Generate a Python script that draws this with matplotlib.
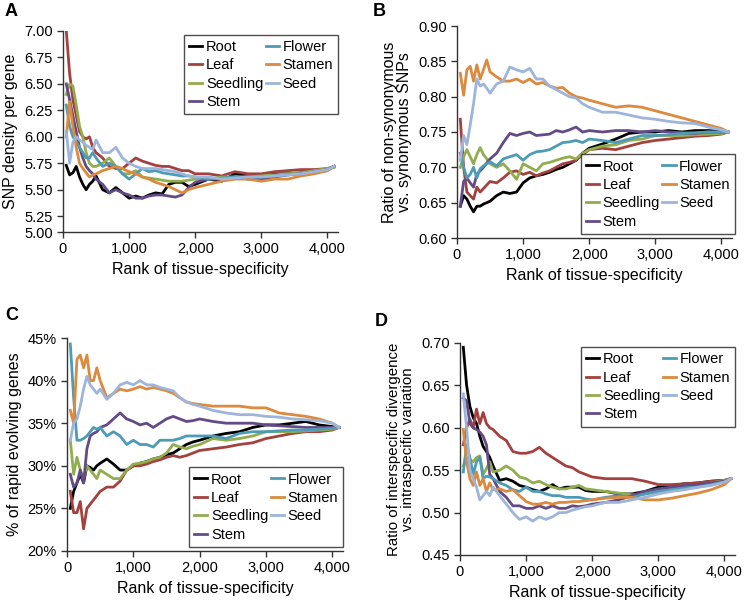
import matplotlib
matplotlib.use('Agg')
import matplotlib.pyplot as plt
from matplotlib.ticker import FuncFormatter

plt.rcParams['font.family'] = ['Liberation Sans', 'DejaVu Sans']
plt.rcParams['font.size'] = 10

tissues = ['Root', 'Leaf', 'Seedling', 'Stem', 'Flower', 'Stamen', 'Seed']
colors = ['#000000', '#a3413f', '#92ad4e', '#634b86', '#4e9bb5', '#db8a3e', '#9db5db']

rank = [50, 100, 150, 200, 250, 300, 350, 400, 450, 500, 600, 700, 800, 900, 1000,
        1100, 1200, 1300, 1400, 1500, 1600, 1700, 1800, 1900, 2000, 2200, 2400, 2600,
        2800, 3000, 3200, 3400, 3600, 3800, 4000, 4100]

# A: SNP density per gene
a_root = [5.73, 5.64, 5.66, 5.72, 5.62, 5.55, 5.50, 5.55, 5.58, 5.63, 5.50, 5.47, 5.52, 5.47, 5.42, 5.44, 5.42, 5.45, 5.47, 5.46, 5.55, 5.57, 5.57, 5.53, 5.55, 5.60, 5.58, 5.65, 5.63, 5.62, 5.65, 5.65, 5.66, 5.67, 5.69, 5.72]
a_leaf = [7.00, 6.60, 6.35, 6.20, 6.05, 6.00, 5.98, 6.00, 5.90, 5.85, 5.80, 5.72, 5.70, 5.70, 5.75, 5.80, 5.77, 5.75, 5.73, 5.72, 5.72, 5.70, 5.68, 5.68, 5.65, 5.65, 5.63, 5.67, 5.65, 5.65, 5.67, 5.68, 5.69, 5.69, 5.70, 5.72]
a_seedling = [6.40, 6.50, 6.48, 6.30, 6.10, 6.00, 5.85, 5.75, 5.72, 5.72, 5.75, 5.80, 5.72, 5.65, 5.65, 5.68, 5.62, 5.61, 5.60, 5.59, 5.58, 5.58, 5.58, 5.59, 5.60, 5.60, 5.62, 5.62, 5.62, 5.63, 5.64, 5.65, 5.66, 5.68, 5.70, 5.71]
a_stem = [6.50, 6.35, 6.20, 6.05, 5.90, 5.80, 5.72, 5.68, 5.65, 5.60, 5.55, 5.47, 5.50, 5.47, 5.45, 5.42, 5.42, 5.44, 5.45, 5.45, 5.44, 5.43, 5.45, 5.52, 5.57, 5.60, 5.60, 5.62, 5.60, 5.60, 5.62, 5.64, 5.65, 5.67, 5.69, 5.72]
a_flower = [6.30, 6.10, 6.00, 5.95, 5.90, 5.85, 5.80, 5.80, 5.85, 5.80, 5.72, 5.75, 5.72, 5.65, 5.60, 5.65, 5.70, 5.67, 5.68, 5.66, 5.65, 5.64, 5.63, 5.63, 5.62, 5.60, 5.61, 5.62, 5.62, 5.62, 5.63, 5.64, 5.65, 5.66, 5.68, 5.72]
a_stamen = [6.00, 6.33, 6.10, 5.90, 5.75, 5.70, 5.66, 5.62, 5.64, 5.65, 5.68, 5.70, 5.72, 5.70, 5.67, 5.65, 5.62, 5.60, 5.57, 5.55, 5.53, 5.50, 5.47, 5.50, 5.52, 5.55, 5.58, 5.60, 5.60, 5.58, 5.60, 5.60, 5.63, 5.65, 5.68, 5.72]
a_seed = [6.05, 5.75, 5.95, 6.00, 5.97, 5.95, 5.92, 5.90, 5.88, 5.97, 5.85, 5.85, 5.90, 5.80, 5.75, 5.72, 5.70, 5.70, 5.70, 5.69, 5.68, 5.67, 5.65, 5.63, 5.62, 5.62, 5.60, 5.61, 5.62, 5.62, 5.63, 5.64, 5.65, 5.67, 5.69, 5.72]

# B: non-synonymous / synonymous SNPs
b_root = [0.645, 0.660, 0.655, 0.645, 0.637, 0.645, 0.645, 0.648, 0.650, 0.652, 0.660, 0.665, 0.663, 0.665, 0.678, 0.685, 0.688, 0.690, 0.693, 0.697, 0.700, 0.705, 0.710, 0.720, 0.727, 0.733, 0.740, 0.748, 0.750, 0.750, 0.752, 0.750, 0.752, 0.752, 0.751, 0.750]
b_leaf = [0.768, 0.700, 0.665, 0.660, 0.655, 0.672, 0.665, 0.670, 0.675, 0.680, 0.678, 0.685, 0.693, 0.695, 0.690, 0.693, 0.688, 0.692, 0.695, 0.700, 0.705, 0.707, 0.710, 0.718, 0.725, 0.727, 0.725, 0.730, 0.735, 0.738, 0.740, 0.742, 0.744, 0.745, 0.747, 0.750]
b_seedling = [0.700, 0.715, 0.725, 0.715, 0.705, 0.718, 0.728, 0.718, 0.712, 0.705, 0.700, 0.705, 0.695, 0.683, 0.705, 0.700, 0.695, 0.705, 0.707, 0.710, 0.713, 0.715, 0.712, 0.720, 0.725, 0.730, 0.732, 0.738, 0.740, 0.745, 0.745, 0.745, 0.746, 0.747, 0.748, 0.750]
b_stem = [0.645, 0.680, 0.685, 0.678, 0.672, 0.690, 0.695, 0.700, 0.706, 0.712, 0.720, 0.735, 0.748, 0.745, 0.748, 0.750, 0.745, 0.746, 0.747, 0.752, 0.750, 0.753, 0.757, 0.750, 0.752, 0.750, 0.752, 0.752, 0.750, 0.752, 0.750, 0.749, 0.748, 0.750, 0.750, 0.750]
b_flower = [0.720, 0.700, 0.685, 0.690, 0.700, 0.685, 0.698, 0.702, 0.705, 0.708, 0.702, 0.712, 0.715, 0.718, 0.710, 0.718, 0.722, 0.723, 0.725, 0.730, 0.735, 0.736, 0.738, 0.735, 0.740, 0.738, 0.735, 0.740, 0.745, 0.745, 0.746, 0.748, 0.749, 0.750, 0.750, 0.750]
b_stamen = [0.833, 0.802, 0.838, 0.843, 0.822, 0.845, 0.825, 0.838, 0.852, 0.835, 0.828, 0.822, 0.822, 0.825, 0.820, 0.825, 0.818, 0.820, 0.815, 0.812, 0.813, 0.805, 0.800, 0.798, 0.795, 0.790, 0.785, 0.787, 0.785, 0.780, 0.775, 0.770, 0.765, 0.760, 0.755, 0.750]
b_seed = [0.710, 0.745, 0.732, 0.760, 0.790, 0.825, 0.815, 0.818, 0.812, 0.805, 0.818, 0.822, 0.842, 0.838, 0.835, 0.840, 0.825, 0.825, 0.815, 0.810, 0.805, 0.800, 0.798, 0.790, 0.785, 0.778, 0.778, 0.774, 0.770, 0.768, 0.765, 0.763, 0.762, 0.757, 0.753, 0.750]

# C: % of rapid evolving genes
c_root = [25.0, 27.0, 28.0, 29.0, 28.0, 30.0, 29.8, 29.5, 30.0, 30.3, 30.8, 30.2, 29.5, 29.5, 30.0, 30.3, 30.5, 30.8, 31.0, 31.3, 31.5, 32.0, 32.5, 32.8, 33.0, 33.5, 33.8, 34.0, 34.5, 34.8, 34.8, 35.0, 35.2, 34.8, 34.6, 34.5]
c_leaf = [27.0, 24.5, 24.5, 25.8, 22.6, 25.0, 25.5, 26.0, 26.5, 27.0, 27.5, 27.5, 28.2, 29.5, 30.0, 30.0, 30.2, 30.5, 30.7, 31.0, 31.2, 31.0, 31.2, 31.5, 31.8, 32.0, 32.2, 32.5, 32.7, 33.2, 33.5, 33.8, 34.0, 34.0, 34.2, 34.5]
c_seedling = [33.0, 29.0, 31.0, 29.5, 28.5, 30.0, 29.5, 29.0, 28.5, 29.5, 29.0, 28.5, 28.5, 29.5, 30.2, 30.3, 30.5, 30.8, 31.0, 31.5, 32.5, 32.2, 32.0, 32.3, 32.5, 33.2, 33.0, 33.2, 33.5, 34.0, 34.0, 34.0, 34.1, 34.2, 34.3, 34.5]
c_stem = [29.0, 27.5, 28.0, 29.5, 28.0, 32.0, 33.5, 33.8, 34.0, 34.5, 34.8, 35.5, 36.2, 35.5, 35.2, 34.8, 35.0, 34.5, 35.0, 35.5, 35.8, 35.5, 35.2, 35.3, 35.5, 35.2, 35.0, 35.0, 35.0, 34.8, 34.7, 34.6, 34.5, 34.5, 34.5, 34.5]
c_flower = [44.3, 38.0, 33.0, 33.0, 33.2, 33.5, 34.0, 34.5, 34.3, 34.5, 33.5, 34.0, 33.5, 32.5, 33.0, 32.5, 32.5, 32.2, 33.0, 33.0, 33.0, 33.2, 33.5, 33.5, 33.5, 33.5, 33.2, 33.8, 34.0, 34.0, 34.1, 34.2, 34.2, 34.3, 34.4, 34.5]
c_stamen = [36.5, 35.0, 42.5, 43.0, 41.5, 43.0, 40.0, 40.0, 41.5, 40.0, 38.0, 38.5, 39.0, 38.8, 39.0, 39.3, 39.0, 39.2, 39.0, 38.8, 38.5, 38.0, 37.5, 37.3, 37.2, 37.0, 37.0, 37.0, 36.8, 36.8, 36.2, 36.0, 35.8, 35.5, 35.0, 34.5]
c_seed = [33.0, 35.0, 35.5, 37.0, 39.0, 40.5, 39.5, 39.0, 38.5, 39.0, 37.8, 38.5, 39.5, 39.8, 39.5, 40.0, 39.5, 39.5, 39.2, 39.0, 38.8, 38.0, 37.5, 37.2, 37.0, 36.5, 36.2, 36.0, 36.0, 35.8, 35.7, 35.5, 35.4, 35.3, 35.0, 34.5]

# D: interspecific divergence / intraspecific variation
d_root = [0.695, 0.650, 0.625, 0.612, 0.605, 0.590, 0.578, 0.572, 0.565, 0.555, 0.538, 0.540, 0.537, 0.532, 0.530, 0.527, 0.525, 0.528, 0.533, 0.528, 0.530, 0.530, 0.530, 0.526, 0.525, 0.525, 0.522, 0.522, 0.525, 0.530, 0.532, 0.534, 0.535, 0.537, 0.538, 0.540]
d_leaf = [0.580, 0.600, 0.610, 0.600, 0.622, 0.605, 0.618, 0.605, 0.600, 0.598, 0.590, 0.585, 0.572, 0.570, 0.570, 0.572, 0.577, 0.570, 0.565, 0.560, 0.555, 0.553, 0.548, 0.545, 0.542, 0.540, 0.540, 0.540, 0.537, 0.533, 0.533, 0.534, 0.535, 0.537, 0.538, 0.540]
d_seedling = [0.555, 0.565, 0.562, 0.560, 0.565, 0.567, 0.545, 0.552, 0.560, 0.548, 0.550, 0.555, 0.550, 0.542, 0.540, 0.535, 0.537, 0.533, 0.530, 0.528, 0.528, 0.530, 0.532, 0.528, 0.527, 0.525, 0.523, 0.521, 0.522, 0.525, 0.527, 0.530, 0.532, 0.535, 0.538, 0.540]
d_stem = [0.635, 0.632, 0.605, 0.600, 0.598, 0.595, 0.590, 0.580, 0.545, 0.540, 0.525, 0.518, 0.508, 0.508, 0.505, 0.505, 0.508, 0.505, 0.508, 0.505, 0.505, 0.508, 0.507, 0.508, 0.510, 0.512, 0.515, 0.520, 0.525, 0.528, 0.530, 0.532, 0.533, 0.535, 0.537, 0.540]
d_flower = [0.548, 0.580, 0.565, 0.545, 0.560, 0.565, 0.540, 0.543, 0.542, 0.540, 0.535, 0.532, 0.527, 0.525, 0.530, 0.525, 0.525, 0.522, 0.520, 0.520, 0.518, 0.518, 0.518, 0.516, 0.515, 0.518, 0.520, 0.518, 0.522, 0.525, 0.527, 0.529, 0.530, 0.533, 0.536, 0.540]
d_stamen = [0.598, 0.560, 0.540, 0.532, 0.548, 0.532, 0.540, 0.525, 0.535, 0.527, 0.528, 0.525, 0.527, 0.520, 0.513, 0.510, 0.510, 0.512, 0.510, 0.512, 0.512, 0.513, 0.513, 0.514, 0.515, 0.517, 0.518, 0.518, 0.515, 0.515, 0.517, 0.520, 0.523, 0.527, 0.533, 0.540]
d_seed = [0.640, 0.600, 0.550, 0.540, 0.530, 0.515, 0.520, 0.525, 0.520, 0.530, 0.520, 0.510, 0.500, 0.492, 0.495, 0.490, 0.495, 0.492, 0.495, 0.500, 0.500, 0.503, 0.505, 0.507, 0.508, 0.512, 0.512, 0.515, 0.518, 0.522, 0.525, 0.527, 0.530, 0.532, 0.536, 0.540]

# y ticks as printed on each panel
a_ticks = [5.10, 5.25, 5.50, 5.75, 6.00, 6.25, 6.50, 6.75, 7.00]
a_ticklabels = ['5.00', '5.25', '5.50', '5.75', '6.00', '6.25', '6.50', '6.75', '7.00']
b_ticks = [0.60, 0.65, 0.70, 0.75, 0.80, 0.85, 0.90]
c_ticks = [20, 25, 30, 35, 40, 45]
d_ticks = [0.45, 0.50, 0.55, 0.60, 0.65, 0.70]

W, H = 747, 602
fig = plt.figure(figsize=(W / 100, H / 100), dpi=100)


def box(l, t, r, b):
    return [l / W, 1 - b / H, (r - l) / W, (b - t) / H]


def pct(v, p):
    return '%d%%' % v


def two_dec(v, p):
    return '%.2f' % v


def thousands(v, p):
    return '{:,.0f}'.format(v)


panels = [
    ('A', (5, 12), box(63, 31, 338, 232),
     [a_root, a_leaf, a_seedling, a_stem, a_flower, a_stamen, a_seed],
     'SNP density per gene', (5.10, 7.00), a_ticks, a_ticklabels, 'upper right', (1.0, 0.98), 11.5),
    ('B', (373, 12), box(457, 26, 732, 238),
     [b_root, b_leaf, b_seedling, b_stem, b_flower, b_stamen, b_seed],
     'Ratio of non-synonymous\nvs. synonymous SNPs', (0.60, 0.90), b_ticks, None, 'lower right', (1.01, 0.02), 11.5),
    ('C', (5, 316), box(67, 338, 343, 551),
     [c_root, c_leaf, c_seedling, c_stem, c_flower, c_stamen, c_seed],
     '% of rapid evolving genes', (20, 45), c_ticks, None, 'lower right', (1.0, 0.02), 11.5),
    ('D', (375, 321), box(460, 343, 735, 555),
     [d_root, d_leaf, d_seedling, d_stem, d_flower, d_stamen, d_seed],
     'Ratio of interspecific divergence\nvs. intraspecific variation', (0.45, 0.70), d_ticks, None, 'upper right', (1.0, 0.98), 10.8),
]

for letter, lpos, pos, series, ylabel, ylim, yt, ytl, loc, anchor, yfs in panels:
    ax = fig.add_axes(pos)
    for name, ys, c in zip(tissues, series, colors):
        ax.plot(rank, ys, color=c, lw=2, label=name)
    ax.set_xlim(0, 4160)
    ax.set_ylim(*ylim)
    ax.set_xticks([0, 1000, 2000, 3000, 4000])
    ax.xaxis.set_major_formatter(FuncFormatter(thousands))
    ax.set_yticks(yt)
    if ytl is not None:
        ax.set_yticklabels(ytl)
    elif letter == 'C':
        ax.yaxis.set_major_formatter(FuncFormatter(pct))
    else:
        ax.yaxis.set_major_formatter(FuncFormatter(two_dec))
    for s in ['top', 'right']:
        ax.spines[s].set_visible(False)
    for s in ['left', 'bottom']:
        ax.spines[s].set_color('#333333')
        ax.spines[s].set_linewidth(1)
    ax.tick_params(direction='out', length=4, width=1, color='#333333', labelsize=10.5)
    ax.set_xlabel('Rank of tissue-specificity', fontsize=11.5)
    ax.set_ylabel(ylabel, fontsize=yfs, linespacing=1.0)
    leg = ax.legend(loc=loc, bbox_to_anchor=anchor, ncol=2, fontsize=10.5, frameon=True,
                    fancybox=False, handlelength=0.9, handletextpad=0.25, columnspacing=0.15,
                    labelspacing=0.3, borderpad=0.35, borderaxespad=0.0)
    leg.get_frame().set_edgecolor('#222222')
    leg.get_frame().set_linewidth(1)
    fig.text(lpos[0] / W, 1 - lpos[1] / H, letter, fontsize=13,
             fontweight='bold', va='center', ha='left')

fig.savefig('out.png', dpi=100)
